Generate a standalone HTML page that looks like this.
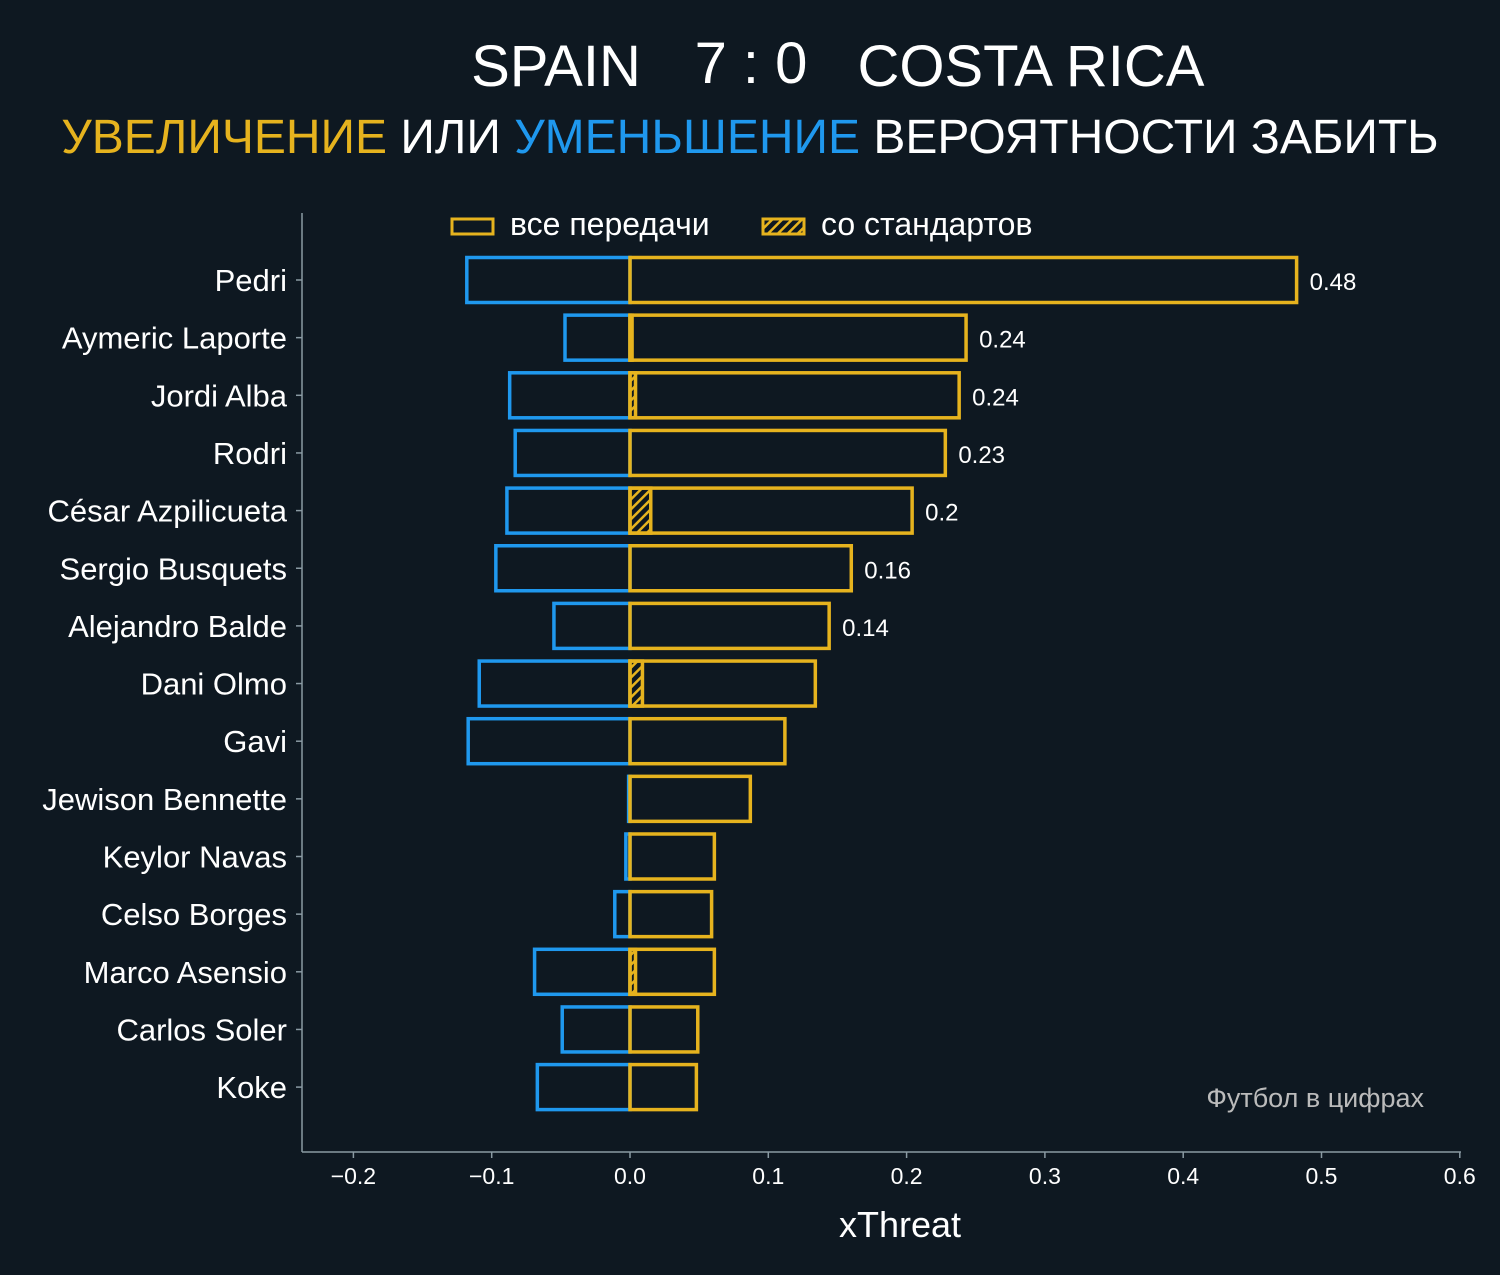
<!DOCTYPE html>
<html><head><meta charset="utf-8"><style>
body{margin:0;background:#0e1821;}
svg{display:block;font-family:"Liberation Sans","DejaVu Sans",sans-serif;}
</style></head><body>
<svg id="chart" width="1500" height="1275" viewBox="0 0 1500 1275">
<defs>
<pattern id="hatch" patternUnits="userSpaceOnUse" width="7" height="7" patternTransform="rotate(45)">
<rect width="7" height="7" fill="#0e1821"/>
<rect width="2.5" height="7" fill="#e6b31e"/>
</pattern>
</defs>
<rect width="1500" height="1275" fill="#0e1821"/>
<g font-size="58" fill="#fff">
<text x="556" y="86" text-anchor="middle">SPAIN</text>
<text x="751" y="83" text-anchor="middle">7 : 0</text>
<text x="1031" y="86" text-anchor="middle">COSTA RICA</text>
</g>
<text x="750" y="153" text-anchor="middle" font-size="48" fill="#fff"><tspan fill="#e6b31e">УВЕЛИЧЕНИЕ</tspan> ИЛИ <tspan fill="#1f98ee">УМЕНЬШЕНИЕ</tspan> ВЕРОЯТНОСТИ ЗАБИТЬ</text>
<g>
<rect x="452" y="219" width="41" height="15" fill="none" stroke="#e6b31e" stroke-width="3"/>
<text x="510" y="235" font-size="32" fill="#fff">все передачи</text>
<rect x="763" y="219" width="41" height="15" fill="url(#hatch)" stroke="#e6b31e" stroke-width="3"/>
<text x="821" y="235" font-size="32" fill="#fff">со стандартов</text>
</g>
<g id="axes"></g>
<g id="bars"></g>
<text x="1424" y="1107" text-anchor="end" font-size="27" fill="#bbbbbb">Футбол в цифрах</text>
<text x="900" y="1237" text-anchor="middle" font-size="36" fill="#fff">xThreat</text>
</svg>
<script>
const players=["Pedri","Aymeric Laporte","Jordi Alba","Rodri","César Azpilicueta","Sergio Busquets","Alejandro Balde","Dani Olmo","Gavi","Jewison Bennette","Keylor Navas","Celso Borges","Marco Asensio","Carlos Soler","Koke"];
const positive=[0.482,0.243,0.238,0.228,0.204,0.160,0.144,0.134,0.112,0.087,0.061,0.059,0.061,0.049,0.048];
const negative=[-0.118,-0.047,-0.087,-0.083,-0.089,-0.097,-0.055,-0.109,-0.117,-0.001,-0.003,-0.011,-0.069,-0.049,-0.067];
const setPieces=[0,0.0015,0.004,0,0.015,0,0,0.009,0,0,0,0,0.004,0,0];
const valueLabels=["0.48","0.24","0.24","0.23","0.2","0.16","0.14"];
const xTicks=[-0.2,-0.1,0.0,0.1,0.2,0.3,0.4,0.5,0.6];
const xTickLabels=["−0.2","−0.1","0.0","0.1","0.2","0.3","0.4","0.5","0.6"];

const NS="http://www.w3.org/2000/svg";
const x=v=>630+v*1383;
const y=i=>280+i*57.65;
const BH=45;
function mk(tag,attrs,parent){const e=document.createElementNS(NS,tag);for(const k in attrs)e.setAttribute(k,attrs[k]);parent.appendChild(e);return e;}
const ax=document.getElementById('axes'), bars=document.getElementById('bars');
let e;
e=mk('line',{x1:302,y1:213,x2:302,y2:1152,stroke:'#8a9aa3','stroke-width':1.5},ax);


e=mk('line',{x1:302,y1:1152,x2:1461,y2:1152,stroke:'#8a9aa3','stroke-width':1.5},ax);


xTicks.forEach((t,i)=>{
  mk('line',{x1:x(t),y1:1152,x2:x(t),y2:1158,stroke:'#8a9aa3','stroke-width':1.5},ax);
  const l=mk('text',{x:x(t),y:1184,'text-anchor':'middle','font-size':23,fill:'#fff'},ax);
  l.textContent=xTickLabels[i];
  
  
});
players.forEach((p,i)=>{
  const cy=y(i);
  mk('line',{x1:296,y1:cy,x2:302,y2:cy,stroke:'#8a9aa3','stroke-width':1.5},ax);
  const l=mk('text',{x:287,y:cy+11,'text-anchor':'end','font-size':31,fill:'#fff'},ax);
  l.textContent=p;
  
  
  const n=mk('rect',{x:x(negative[i]),y:cy-BH/2,width:x(0)-x(negative[i]),height:BH,fill:'none',stroke:'#1f98ee','stroke-width':3.5},bars);
  
  
  if(setPieces[i]>0){
    const h=mk('rect',{x:x(0),y:cy-BH/2,width:x(setPieces[i])-x(0),height:BH,fill:'url(#hatch)',stroke:'#e6b31e','stroke-width':3.5},bars);
    
    
  }
  const r=mk('rect',{x:x(0),y:cy-BH/2,width:x(positive[i])-x(0),height:BH,fill:'none',stroke:'#e6b31e','stroke-width':3.5},bars);
  
  
  if(valueLabels[i]){
    const v=mk('text',{x:x(positive[i])+13,y:cy+10,'font-size':24,fill:'#fff'},bars);
    v.textContent=valueLabels[i];
    
    
  }
});
</script>
</body></html>
